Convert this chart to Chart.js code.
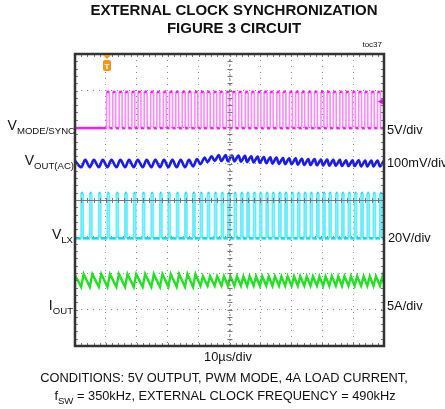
<!DOCTYPE html>
<html>
<head>
<meta charset="utf-8">
<script src="https://cdn.jsdelivr.net/npm/chart.js@4.4.1/dist/chart.umd.min.js"></script>
<style>
body { margin: 0; background: #fff; }
canvas { display: block; }
</style>
</head>
<body>
<canvas id="chart" width="445" height="409"></canvas>
<script>
// x in microseconds (10us/div, 10 div), y in screen divisions from the bottom (8 div)

// MODE/SYNC clock: rising edge times (us), low/high levels, high time
const syncEdges = [10.2, 12.2, 14.3, 16.3, 18.4, 20.4, 22.4, 24.5, 26.5, 28.6, 30.6, 32.6, 34.7, 36.7,
    38.8, 40.8, 42.8, 44.9, 46.9, 49.0, 51.0, 53.0, 55.1, 57.1, 59.2, 61.2, 63.2, 65.3, 67.3, 69.4,
    71.4, 73.4, 75.5, 77.5, 79.6, 81.6, 83.6, 85.7, 87.7, 89.8, 91.8, 93.8, 95.9, 97.9, 99.9];
const syncLow = 5.97;
const syncHigh = 6.96;
const syncHighTime = 0.95;

// LX switching node: rising edge times (us), levels, on time
const lxEdges = [2.0, 4.8, 7.7, 10.5, 13.4, 16.2, 19.0, 21.9, 24.7, 27.5, 30.2, 32.9, 35.6, 38.2,
    40.6, 42.9, 45.2, 47.4, 49.5, 51.6, 53.7, 55.7, 57.8, 59.8, 61.9, 63.9, 66.0, 68.0, 70.1, 72.1,
    74.2, 76.2, 78.3, 80.3, 82.3, 84.4, 86.4, 88.5, 90.5, 92.6, 94.6, 96.6, 98.7];
const lxLow = 2.95;
const lxHigh = 4.19;
const lxOnTime = 0.6;

// VOUT(AC) ripple, one valley and one peak per switching cycle
const voutValley = [4.90, 4.90, 4.90, 4.90, 4.90, 4.90, 4.90, 4.90, 4.90, 4.90, 4.90, 4.90, 4.90, 4.92,
    4.98, 5.04, 5.07, 5.07, 5.06, 5.06, 5.05, 5.04, 5.03, 5.02, 5.01, 5.00, 4.99, 4.98, 4.98, 4.97,
    4.96, 4.96, 4.95, 4.95, 4.94, 4.94, 4.93, 4.93, 4.93, 4.92, 4.92, 4.92, 4.92];
const voutPeak = [5.10, 5.10, 5.10, 5.10, 5.10, 5.10, 5.10, 5.10, 5.10, 5.10, 5.10, 5.10, 5.10, 5.12,
    5.16, 5.20, 5.23, 5.23, 5.22, 5.22, 5.21, 5.20, 5.19, 5.18, 5.17, 5.16, 5.15, 5.14, 5.14, 5.13,
    5.12, 5.12, 5.11, 5.11, 5.10, 5.10, 5.09, 5.09, 5.09, 5.08, 5.08, 5.08, 5.08];

// IOUT ripple per switching cycle
const ioutValley = [1.62, 1.62, 1.62, 1.62, 1.62, 1.62, 1.62, 1.62, 1.62, 1.62, 1.62, 1.62, 1.62, 1.62,
    1.65, 1.65, 1.65, 1.65, 1.65, 1.65, 1.65, 1.65, 1.65, 1.65, 1.65, 1.65, 1.65, 1.65, 1.65, 1.65,
    1.65, 1.65, 1.65, 1.65, 1.65, 1.65, 1.65, 1.65, 1.65, 1.65, 1.65, 1.65, 1.65];
const ioutPeak = [1.97, 1.97, 1.97, 1.97, 1.97, 1.97, 1.97, 1.97, 1.97, 1.97, 1.97, 1.97, 1.97, 1.97,
    1.91, 1.91, 1.91, 1.91, 1.91, 1.91, 1.91, 1.91, 1.91, 1.91, 1.91, 1.91, 1.91, 1.91, 1.91, 1.91,
    1.91, 1.91, 1.91, 1.91, 1.91, 1.91, 1.91, 1.91, 1.91, 1.91, 1.91, 1.91, 1.91];

const triggerTime = 10.3;
const triggerLevel = 6.7;

const FONT = '"Liberation Sans", Arial, sans-serif';

// build point lists for the traces
function squareWave(edges, width, lo, hi) {
    let pts = [{x: 0, y: lo}];
    edges.forEach(e => {
        pts.push({x: e, y: lo}, {x: e, y: hi}, {x: e + width, y: hi}, {x: e + width, y: lo});
    });
    pts.push({x: 100, y: lo});
    return pts;
}

function ripple(edges, valley, peak, peakDelay) {
    let pts = [{x: 0, y: peak[0] - 0.03}];
    edges.forEach((e, i) => {
        pts.push({x: e, y: valley[i]});
        pts.push({x: e + peakDelay, y: peak[i]});
    });
    pts.push({x: 100, y: valley[valley.length - 1] + 0.05});
    return pts;
}

// vertical edges thinner and lighter than the levels, like the scope persistence
const isEdge = ctx => ctx.p0.parsed.x === ctx.p1.parsed.x;
function edgeStyle(levelColor, edgeColor, edgeWidth) {
    return {
        borderColor: ctx => isEdge(ctx) ? edgeColor : levelColor,
        borderWidth: ctx => isEdge(ctx) ? edgeWidth : 2.6
    };
}

const scopeDecor = {
    id: 'scopeDecor',
    afterDraw(chart) {
        const ctx = chart.ctx;
        const a = chart.chartArea;
        const divX = (a.right - a.left) / 10;
        const divY = (a.bottom - a.top) / 8;
        const cx = (a.left + a.right) / 2;
        const cy = (a.top + a.bottom) / 2;
        ctx.save();

        // centre axes with minor ticks
        ctx.strokeStyle = '#777';
        ctx.lineWidth = 1;
        ctx.beginPath();
        ctx.moveTo(a.left, cy + 0.5); ctx.lineTo(a.right, cy + 0.5);
        ctx.stroke();
        ctx.setLineDash([2, 3]);
        ctx.beginPath();
        ctx.moveTo(cx + 0.5, a.top); ctx.lineTo(cx + 0.5, a.bottom);
        ctx.stroke();
        ctx.setLineDash([]);
        ctx.beginPath();
        for (let i = 1; i < 50; i++) {
            let x = Math.round(a.left + i * divX / 5) + 0.5;
            ctx.moveTo(x, cy - 2); ctx.lineTo(x, cy + 3);
            ctx.moveTo(x, a.top); ctx.lineTo(x, a.top + 3);
            ctx.moveTo(x, a.bottom); ctx.lineTo(x, a.bottom - 3);
        }
        for (let i = 1; i < 40; i++) {
            let y = Math.round(a.top + i * divY / 5) + 0.5;
            ctx.moveTo(cx - 2, y); ctx.lineTo(cx + 3, y);
            ctx.moveTo(a.left, y); ctx.lineTo(a.left + 3, y);
            ctx.moveTo(a.right, y); ctx.lineTo(a.right - 3, y);
        }
        ctx.stroke();

        // frame
        ctx.strokeStyle = '#333';
        ctx.lineWidth = 2.5;
        ctx.strokeRect(a.left, a.top, a.right - a.left, a.bottom - a.top);

        // trigger position marker
        const xs = chart.scales.x, ys = chart.scales.y;
        const tx = Math.round(xs.getPixelForValue(triggerTime));
        ctx.fillStyle = '#f7941d';
        ctx.beginPath();
        ctx.moveTo(tx - 4, a.top + 1); ctx.lineTo(tx + 4, a.top + 1); ctx.lineTo(tx, a.top + 5);
        ctx.fill();
        ctx.beginPath();
        ctx.roundRect(tx - 4, a.top + 6, 8, 11, 2);
        ctx.fill();
        ctx.fillStyle = '#fff';
        ctx.font = 'bold 8px ' + FONT;
        ctx.textAlign = 'center';
        ctx.fillText('T', tx, a.top + 15);

        // trigger level marker
        const ty = ys.getPixelForValue(triggerLevel);
        ctx.fillStyle = '#c81ec8';
        ctx.beginPath();
        ctx.moveTo(a.right - 1, ty - 3); ctx.lineTo(a.right - 1, ty + 3); ctx.lineTo(a.right - 6, ty);
        ctx.fill();

        // texts
        ctx.fillStyle = '#111';
        ctx.font = 'bold 15px ' + FONT;
        ctx.textAlign = 'center';
        ctx.fillText('EXTERNAL CLOCK SYNCHRONIZATION', 234, 15);
        ctx.fillText('FIGURE 3 CIRCUIT', 234, 33);
        ctx.font = '8px ' + FONT;
        ctx.textAlign = 'right';
        ctx.fillText('toc37', 382, 47);

        ctx.font = '12.8px ' + FONT;
        ctx.textAlign = 'center';
        ctx.fillText('10\u00b5s/div', 228, 361);
        ctx.fillText('CONDITIONS: 5V OUTPUT, PWM MODE, 4A LOAD CURRENT,', 224, 382);
        subLine(ctx, [['f', 12.8, 0], ['SW', 9.6, 4], [' = 350kHz, EXTERNAL CLOCK FREQUENCY = 490kHz', 12.8, 0]], 225, 400, 'center');

        // channel labels, left
        subLine(ctx, [['V', 14, 0], ['MODE/SYNC', 9.6, 4]], 75, 130, 'right');
        subLine(ctx, [['V', 14, 0], ['OUT(AC)', 9.6, 4]], 74, 165, 'right');
        subLine(ctx, [['V', 14, 0], ['LX', 9.6, 4]], 73, 239, 'right');
        subLine(ctx, [['I', 14, 0], ['OUT', 9.6, 4]], 73, 310, 'right');

        // scale labels, right
        ctx.font = '12.8px ' + FONT;
        ctx.textAlign = 'left';
        ctx.fillText('5V/div', 387, 134);
        ctx.fillText('100mV/div', 387, 167);
        ctx.fillText('20V/div', 388, 242);
        ctx.fillText('5A/div', 387, 310);
        ctx.restore();
    }
};

// draw a run of text pieces (text, size, drop) on one baseline
function subLine(ctx, parts, x, base, align) {
    ctx.textAlign = 'left';
    let total = 0;
    parts.forEach(p => { ctx.font = p[1] + 'px ' + FONT; total += ctx.measureText(p[0]).width; });
    let pos = align === 'right' ? x - total : x - total / 2;
    parts.forEach(p => {
        ctx.font = p[1] + 'px ' + FONT;
        ctx.fillText(p[0], pos, base + p[2]);
        pos += ctx.measureText(p[0]).width;
    });
}

const ctx = document.getElementById('chart').getContext('2d');

new Chart(ctx, {
    type: 'line',
    data: {
        datasets: [
            {
                label: 'MODE/SYNC',
                data: squareWave(syncEdges, syncHighTime, syncLow, syncHigh),
                borderColor: '#f020f0',
                segment: edgeStyle('#f020f0', '#ff88ff', 1.6),
                borderWidth: 2.6,
                pointRadius: 0
            },
            {
                label: 'VOUT(AC)',
                data: ripple(lxEdges, voutValley, voutPeak, 1.3),
                borderColor: '#1c1ce8',
                borderWidth: 2.6,
                tension: 0.35,
                pointRadius: 0
            },
            {
                label: 'LX',
                data: squareWave(lxEdges, lxOnTime, lxLow, lxHigh),
                borderColor: '#10dcec',
                segment: edgeStyle('#10dcec', '#66eefc', 1.9),
                borderWidth: 2.6,
                pointRadius: 0
            },
            {
                label: 'IOUT',
                data: ripple(lxEdges, ioutValley, ioutPeak, 0.8),
                borderColor: '#22e022',
                borderWidth: 2.4,
                pointRadius: 0
            }
        ]
    },
    options: {
        responsive: false,
        animation: false,
        layout: {
            padding: {left: 75, right: 61, top: 54, bottom: 63}
        },
        plugins: {
            legend: {display: false},
            tooltip: {enabled: false}
        },
        scales: {
            x: {
                type: 'linear',
                min: 0,
                max: 100,
                ticks: {display: false, stepSize: 10},
                grid: {color: '#8a8a8a', drawTicks: false},
                border: {display: false, dash: [1, 5]}
            },
            y: {
                type: 'linear',
                min: 0,
                max: 8,
                ticks: {display: false, stepSize: 1},
                grid: {color: '#8a8a8a', drawTicks: false},
                border: {display: false, dash: [1, 5]}
            }
        }
    },
    plugins: [scopeDecor]
});
</script>
</body>
</html>
